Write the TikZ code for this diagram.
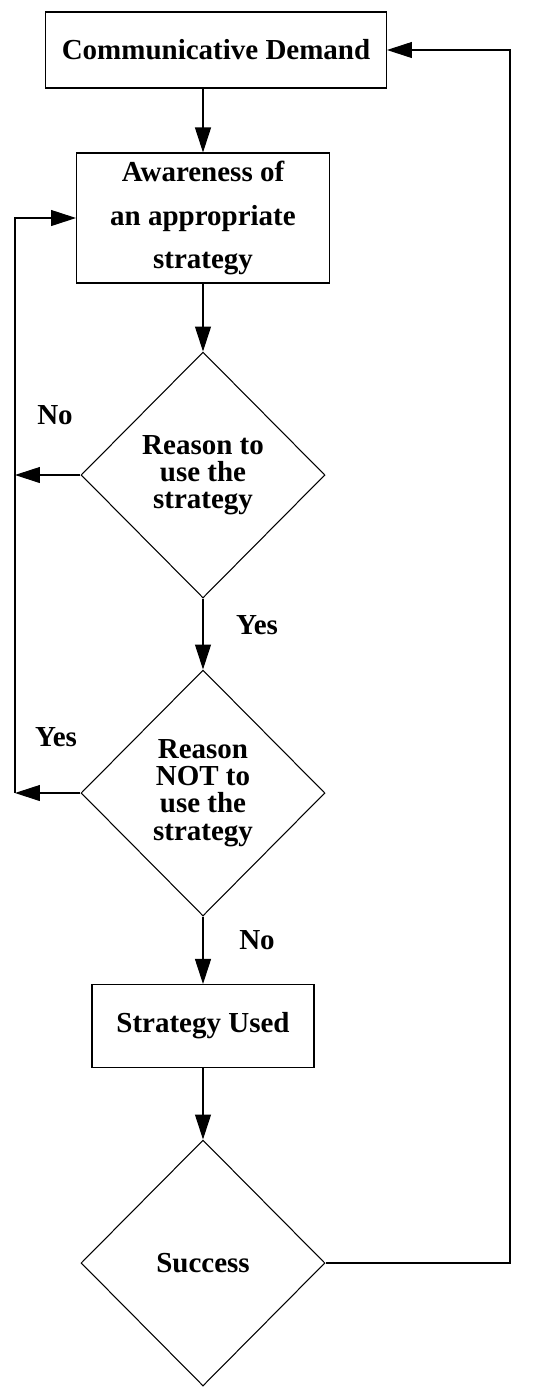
\documentclass[tikz,border=0pt]{standalone}
\usepackage{fontspec}
\setmainfont{Liberation Serif}
\usetikzlibrary{shapes.geometric,arrows.meta}
\tikzset{
  box/.style={draw,rectangle,align=center,inner sep=0pt,
    font=\bfseries\fontsize{16.5}{25}\selectfont},
  dia/.style={draw,diamond,align=center,inner sep=0pt,
    minimum width=4.88cm,minimum height=4.92cm,
    font=\bfseries\fontsize{16.5}{15.5}\selectfont},
  lbl/.style={font=\bfseries\fontsize{16.5}{20}\selectfont},
}
\begin{document}
\begin{tikzpicture}[x=0.02cm,y=-0.02cm,line width=0.6pt,
    >={Triangle[length=0.5cm,width=0.32cm]}]
      \useasboundingbox (0,0) rectangle (535,1387);
      \draw
        (216,50) node[box,minimum width=6.82cm,minimum height=1.52cm] (demand){Communicative Demand}
        (203,218) node[box,minimum width=5.06cm,minimum height=2.6cm] (aware){Awareness of\\an appropriate\\strategy}
        (203,475) node[dia] (reason){Reason to\\use the\\strategy}
        (203,793) node[dia] (notreason){Reason\\NOT to\\use the\\strategy}
        (203,1026) node[box,minimum width=4.44cm,minimum height=1.66cm] (used){Strategy Used}
        (203,1263) node[dia] (success){Success};
      \draw
        (55,415) node[lbl] (no1){No}
        (257,625) node[lbl] (yes1){Yes}
        (56,737) node[lbl] (yes2){Yes}
        (257,940) node[lbl] (no2){No};
      \coordinate (lft) at (15,793);
      \coordinate (rgt) at (510,50);
      \begin{scope}[->]
        \draw (aware.north |- demand.south) to (aware.north);
        \draw (aware) to (reason);
        \draw (reason) to (notreason);
        \draw (notreason) to (used);
        \draw (used) to (success);
        \draw (reason.west) to (reason.west -| lft);
        \draw (notreason.west) to (lft);
        \draw (lft) |- (aware.west);
        \draw (success.east) -| (rgt) -- (demand.east);
      \end{scope}
    \end{tikzpicture}
\end{document}
